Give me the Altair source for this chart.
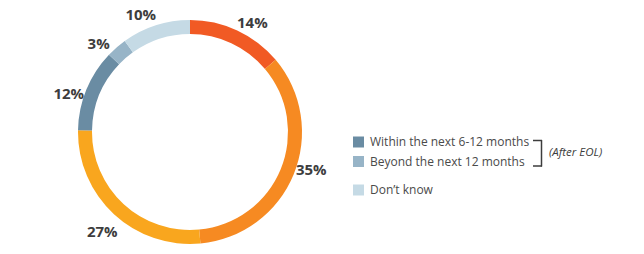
import altair as alt
import pandas as pd
import math

categories = ["Before EOL A", "Before EOL B", "Before EOL C",
              "Within the next 6-12 months", "Beyond the next 12 months", "Don't know"]
values = [14, 35, 27, 12, 3, 10]
colors = ["#F15A24", "#F68A22", "#F9A61E", "#6A8CA3", "#97B4C7", "#C5DAE5"]
labels = [f"{v}%" for v in values]

legend_labels = ["Within the next 6-12 months", "Beyond the next 12 months", "Don\u2019t know"]
legend_colors = ["#6A8CA3", "#97B4C7", "#C5DAE5"]
bracket_text = "(After EOL)"

df = pd.DataFrame({"cat": categories, "value": values, "label": labels,
                   "order": list(range(len(values)))})

CX, CY = 190, 132
ROT = math.radians(-5)

ring = alt.Chart(df).mark_arc(outerRadius=112, innerRadius=98, strokeWidth=0).encode(
    theta=alt.Theta("value:Q", stack=True),
    order=alt.Order("order:O"),
    x=alt.value(CX), y=alt.value(CY),
    color=alt.Color("cat:N", scale=alt.Scale(domain=categories, range=colors), legend=None),
)

def label_layer(cond, dx=0, dy=0):
    return alt.Chart(df).mark_text(
        radius=127, font="Open Sans", fontSize=15, fontWeight="bold",
        color="#3D3D3D", align="center", baseline="middle", dx=dx, dy=dy,
    ).encode(
        theta=alt.Theta("value:Q", stack=True,
                        scale=alt.Scale(range=[ROT, 2 * math.pi + ROT])),
        order=alt.Order("order:O"),
        x=alt.value(CX), y=alt.value(CY),
        text="label:N",
        opacity=alt.condition(cond, alt.value(1), alt.value(0)),
    )

text_main = label_layer((alt.datum.order != 0) & (alt.datum.order != 2))
text_first = label_layer(alt.datum.order == 0, dx=19, dy=10)
text_third = label_layer(alt.datum.order == 2, dx=-10, dy=0)

layers = [ring, text_main, text_first, text_third]

leg_y = [142, 161.5, 190]
for lab, col, yy in zip(legend_labels, legend_colors, leg_y):
    one = pd.DataFrame({"label": [lab]})
    sq = alt.Chart(one).mark_square(size=121, color=col, opacity=1).encode(
        x=alt.value(358.5), y=alt.value(yy))
    tx = alt.Chart(one).mark_text(font="Open Sans", fontSize=12, color="#4A4A4A",
                                  align="left", baseline="middle").encode(
        x=alt.value(370), y=alt.value(yy), text="label:N")
    layers += [sq, tx]

bdf = pd.DataFrame({"t": [bracket_text]})
br_v = alt.Chart(bdf).mark_rule(color="#3D3D3D", strokeWidth=1.5).encode(
    x=alt.value(541.5), y=alt.value(140), y2=alt.value(166.5))
br_t = alt.Chart(bdf).mark_rule(color="#3D3D3D", strokeWidth=1.5).encode(
    x=alt.value(533), x2=alt.value(542), y=alt.value(140.5))
br_b = alt.Chart(bdf).mark_rule(color="#3D3D3D", strokeWidth=1.5).encode(
    x=alt.value(533), x2=alt.value(542), y=alt.value(166))
br_txt = alt.Chart(bdf).mark_text(font="Open Sans", fontSize=11.5, fontStyle="italic",
                                  color="#3D3D3D", align="left", baseline="middle").encode(
    x=alt.value(549), y=alt.value(153), text="t:N")
layers += [br_v, br_t, br_b, br_txt]

chart = alt.layer(*layers).resolve_scale(theta="independent").properties(
    width=644, height=254,
    autosize=alt.AutoSizeParams(type="none"),
    padding=0,
).configure(background="white").configure_view(stroke=None, strokeWidth=0)

chart.save("out.html", embed_options={"renderer": "svg", "actions": False})
